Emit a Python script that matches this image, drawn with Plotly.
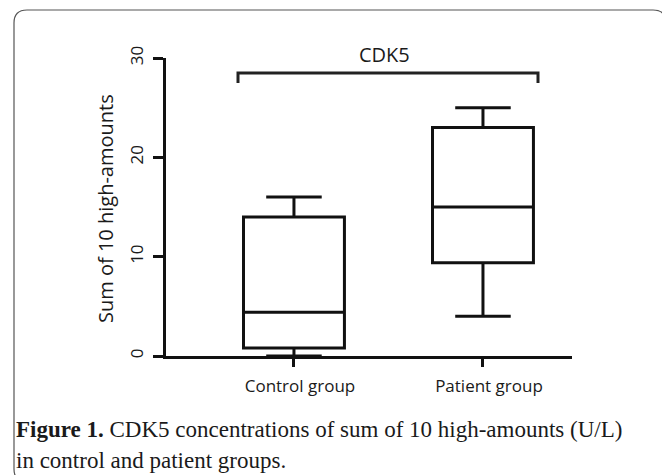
import plotly.graph_objects as go

groups = ["Control group", "Patient group"]
q1 = [0.8, 9.4]
median = [4.4, 15.0]
q3 = [14.0, 23.0]
lower = [0.0, 4.0]
upper = [16.0, 25.0]
y_ticks = [0, 10, 20, 30]
y_title = "Sum of 10 high-amounts"
bracket_label = "CDK5"
caption1 = "<b>Figure 1.</b> CDK5 concentrations of sum of 10 high-amounts (U/L)"
caption2 = "in control and patient groups."

W, H = 670, 475
OFF = 8  # page body margin
L, R, T, B = 166 - OFF, 572 - OFF, 58 - OFF, 356 - OFF  # plot area in pixels


def px(x):
    return (x - OFF - L) / (R - L)


def py(y):
    return (B - (y - OFF)) / (B - T)


fig = go.Figure()
fig.add_trace(go.Box(
    x=groups, q1=q1, median=median, q3=q3,
    lowerfence=lower, upperfence=upper,
    width=0.534, whiskerwidth=0.55,
    fillcolor="rgba(0,0,0,0)",
    line=dict(color="#111111", width=3),
    hoverinfo="skip", showlegend=False,
))

fig.update_layout(
    width=W, height=H,
    margin=dict(l=L, r=W - R, t=T, b=H - B, pad=0),
    paper_bgcolor="white", plot_bgcolor="white",
    font=dict(family="Open Sans", color="#1a1a1a"),
    xaxis=dict(
        range=[-0.677, 1.471], showgrid=False, zeroline=False,
        showline=True, linecolor="#111111", linewidth=3,
        ticks="outside", ticklen=8, tickwidth=3, tickcolor="#111111",
        tickfont=dict(size=17, family="Open Sans", color="#1a1a1a"),
        ticklabelshift=6, ticklabelstandoff=5,
        fixedrange=True,
    ),
    yaxis=dict(
        range=[0, 30], tickvals=y_ticks, showgrid=False, zeroline=False,
        showline=True, linecolor="#111111", linewidth=3,
        ticks="outside", ticklen=10, tickwidth=3, tickcolor="#111111",
        tickangle=-90, ticklabelstandoff=3,
        tickfont=dict(size=17, family="Open Sans", color="#1a1a1a"),
        fixedrange=True,
    ),
)

# bracket
bx0, bx1, by, btip = 238, 538, 73, 83
fig.add_shape(type="path", xref="paper", yref="paper",
              path=f"M {px(bx0)} {py(btip)} L {px(bx0)} {py(by)} L {px(bx1)} {py(by)} L {px(bx1)} {py(btip)}",
              line=dict(color="#222222", width=3))
fig.add_annotation(text=bracket_label, xref="paper", yref="paper",
                   x=px(384), y=py(54), xanchor="center", yanchor="middle",
                   showarrow=False,
                   font=dict(size=20, family="Open Sans", color="#1a1a1a"))

# y title
fig.add_annotation(text=y_title, xref="paper", yref="paper",
                   x=px(105), y=py(209), xanchor="center", yanchor="middle",
                   showarrow=False, textangle=-90,
                   font=dict(size=20, family="Open Sans", color="#1a1a1a"))

# rounded border
x0, x1, y0, y1, r = 14, 666, 10, 482, 13
path = (f"M {px(x0)} {py(y1 - r)} L {px(x0)} {py(y0 + r)} "
        f"Q {px(x0)} {py(y0)} {px(x0 + r)} {py(y0)} "
        f"L {px(x1 - r)} {py(y0)} Q {px(x1)} {py(y0)} {px(x1)} {py(y0 + r)} "
        f"L {px(x1)} {py(y1 - r)} Q {px(x1)} {py(y1)} {px(x1 - r)} {py(y1)} "
        f"L {px(x0 + r)} {py(y1)} Q {px(x0)} {py(y1)} {px(x0)} {py(y1 - r)} Z")
fig.add_shape(type="path", xref="paper", yref="paper", path=path,
              line=dict(color="#555555", width=1.2))

# caption
fig.add_annotation(text=caption1, xref="paper", yref="paper",
                   x=px(14), y=py(429), xanchor="left", yanchor="middle",
                   showarrow=False,
                   font=dict(size=23, family="Liberation Serif", color="#1a1a1a"))
fig.add_annotation(text=caption2, xref="paper", yref="paper",
                   x=px(14), y=py(460), xanchor="left", yanchor="middle",
                   showarrow=False,
                   font=dict(size=23, family="Liberation Serif", color="#1a1a1a"))

fig.write_html("out.html", config={"displayModeBar": False})
